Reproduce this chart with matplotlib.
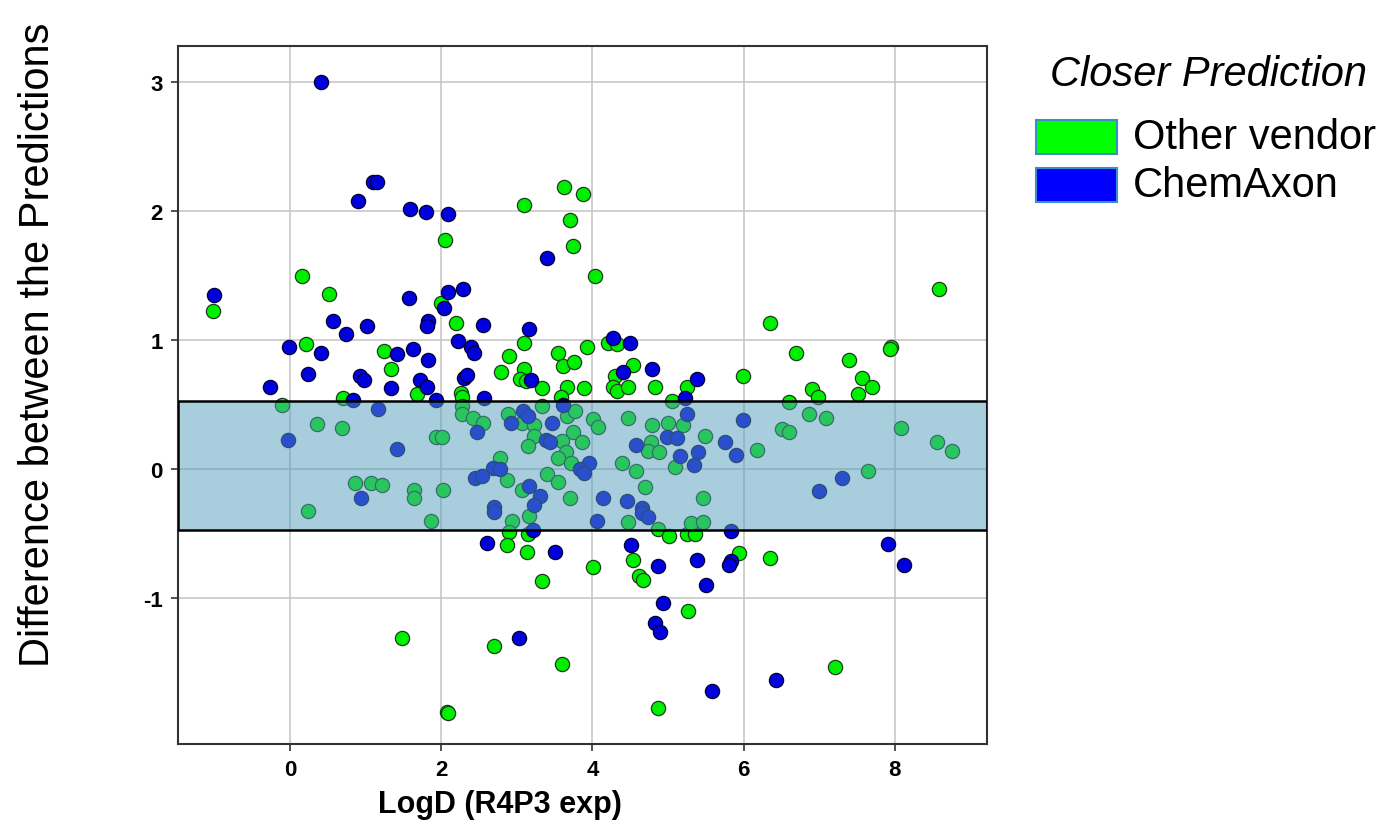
import matplotlib.pyplot as plt
from matplotlib.patches import Rectangle

plt.rcParams['font.family'] = ['Liberation Sans', 'DejaVu Sans']
plt.rcParams['axes.unicode_minus'] = False

# points where the other vendor was closer
other_x = [-1.02, 0.16, 0.52, 2.00, 0.21, 1.24, 1.34, 1.68, 0.70, -0.11, 0.36, 0.69, 1.93,
           0.86, 1.07, 1.22, 1.64, 1.64, 2.02, 0.24, 1.87, 1.48, 2.08, 2.05, 3.10, 3.62,
           3.88, 3.70, 3.74, 4.03, 2.20, 3.10, 2.90, 2.79, 3.10, 3.04, 3.12, 3.33, 3.54,
           3.61, 3.76, 3.93, 3.66, 3.89, 2.26, 2.28, 3.58, 4.21, 4.33, 4.54, 4.30, 4.27,
           4.33, 4.47, 4.83, 5.25, 5.05,
           2.28, 2.28, 2.42, 2.55, 2.01, 2.88, 3.07, 3.23, 3.33, 3.23, 3.15, 3.66, 3.77,
           3.74, 3.86, 3.60, 3.65, 3.55, 3.72, 4.01, 4.07, 4.47, 4.79, 5.00, 5.20, 5.49,
           4.78, 4.74, 4.88, 5.09, 4.39, 4.58, 2.78, 2.87, 3.40, 3.55, 3.07, 3.70, 4.70,
           5.46,
           2.94, 3.16, 2.90, 3.15, 2.87, 3.13, 3.33, 4.01, 4.47, 4.87, 5.01, 5.25, 5.36,
           5.30, 5.46, 4.54, 4.62, 4.67, 5.26, 2.70, 3.60, 2.09, 4.87, 5.94, 6.35, 7.21,
           8.58, 6.35, 6.69, 7.95, 7.94, 7.39, 5.99, 7.57, 7.70, 7.51, 6.90, 6.98, 6.60,
           6.87, 7.09, 6.51, 6.60, 8.08, 8.56, 8.76, 6.18, 7.65]
other_y = [1.23, 1.50, 1.36, 1.29, 0.97, 0.92, 0.78, 0.58, 0.55, 0.50, 0.35, 0.32, 0.25,
           -0.11, -0.11, -0.12, -0.16, -0.22, -0.16, -0.32, -0.40, -1.31, -1.88, 1.78, 2.05, 2.19,
           2.13, 1.93, 1.73, 1.50, 1.13, 0.98, 0.88, 0.75, 0.78, 0.70, 0.68, 0.63, 0.90,
           0.80, 0.83, 0.95, 0.64, 0.63, 0.59, 0.56, 0.56, 0.98, 0.97, 0.81, 0.72, 0.64,
           0.61, 0.64, 0.64, 0.64, 0.53,
           0.49, 0.43, 0.40, 0.36, 0.25, 0.43, 0.36, 0.34, 0.49, 0.26, 0.18, 0.41, 0.45,
           0.29, 0.21, 0.22, 0.13, 0.09, 0.05, 0.39, 0.33, 0.40, 0.34, 0.36, 0.34, 0.26,
           0.21, 0.14, 0.13, 0.02, 0.05, -0.01, 0.09, -0.08, -0.04, -0.10, -0.16, -0.22, -0.14,
           -0.22,
           -0.40, -0.36, -0.49, -0.50, -0.59, -0.64, -0.87, -0.76, -0.41, -0.46, -0.52, -0.50, -0.50,
           -0.42, -0.41, -0.70, -0.83, -0.86, -1.10, -1.37, -1.51, -1.89, -1.85, -0.65, -0.69, -1.53,
           1.40, 1.13, 0.90, 0.95, 0.93, 0.85, 0.72, 0.71, 0.64, 0.58, 0.62, 0.56, 0.52,
           0.43, 0.40, 0.31, 0.29, 0.32, 0.21, 0.14, 0.15, -0.01]

# points where ChemAxon was closer
chem_x = [0.41, 1.10, 1.15, 0.90, 1.59, 1.80, 2.09, -1.00, 0.57, 0.74, 1.02, 1.57, 1.83,
          1.81, 2.04, 2.09, -0.01, 0.41, 0.24, -0.26, 1.42, 1.63, 1.83, 0.93, 0.98, 1.34,
          1.72, 1.81, 1.93, 0.83, 1.16, -0.03, 1.42, 0.94,
          3.40, 2.29, 2.55, 3.16, 2.22, 2.39, 2.43, 3.19, 2.30, 2.34, 2.57, 3.61, 4.27,
          4.50, 4.40, 4.79, 5.38, 5.22,
          2.47, 2.92, 3.08, 3.15, 3.39, 3.44, 3.47, 3.96, 3.84, 3.89, 5.25, 4.99, 5.12,
          4.58, 5.16, 5.40, 5.34, 2.69, 2.78, 2.45, 2.54, 3.16, 3.31, 4.14, 4.46, 2.70,
          3.23, 4.66, 2.70, 3.21, 4.06, 4.66, 4.74, 5.99, 5.75, 5.90, 7.30, 7.00, 5.83,
          2.61, 3.51, 4.51, 4.87, 5.38, 5.50, 4.93, 4.83, 4.89, 3.03, 5.58, 5.83, 5.81,
          7.91, 8.12, 6.43]
chem_y = [3.00, 2.23, 2.23, 2.08, 2.02, 1.99, 1.98, 1.35, 1.15, 1.05, 1.11, 1.33, 1.15,
          1.11, 1.25, 1.37, 0.95, 0.90, 0.74, 0.64, 0.89, 0.93, 0.85, 0.72, 0.69, 0.63,
          0.69, 0.64, 0.54, 0.54, 0.47, 0.23, 0.16, -0.22,
          1.64, 1.40, 1.12, 1.09, 0.99, 0.95, 0.90, 0.69, 0.71, 0.73, 0.55, 0.50, 1.02,
          0.98, 0.75, 0.78, 0.70, 0.55,
          0.29, 0.36, 0.45, 0.41, 0.23, 0.21, 0.36, 0.05, 0.00, -0.03, 0.43, 0.25, 0.24,
          0.19, 0.10, 0.13, 0.03, 0.01, 0.00, -0.07, -0.05, -0.13, -0.21, -0.22, -0.25, -0.29,
          -0.28, -0.30, -0.33, -0.47, -0.40, -0.34, -0.37, 0.38, 0.21, 0.11, -0.07, -0.17, -0.48,
          -0.57, -0.64, -0.59, -0.75, -0.70, -0.90, -1.04, -1.19, -1.26, -1.31, -1.72, -0.71, -0.74,
          -0.58, -0.74, -1.63]

band_lo, band_hi = -0.47, 0.53
xticks = [0, 2, 4, 6, 8]
yticks = [-1, 0, 1, 2, 3]

fig = plt.figure(figsize=(13.83, 8.28), dpi=100)
ax = fig.add_axes([0.1287, 0.1002, 0.585, 0.843])

ax.scatter(other_x, other_y, s=105, c='#00ee00', edgecolors='#1b3d1b', linewidths=0.9, zorder=3)
ax.scatter(chem_x, chem_y, s=105, c='#0000dd', edgecolors='#000033', linewidths=0.9, zorder=3)

# translucent band on top of the points
ax.axhspan(band_lo, band_hi, facecolor=(0.325, 0.62, 0.74, 0.5), edgecolor='none', zorder=4)
ax.axhspan(band_lo, band_hi, facecolor='none', edgecolor='black', linewidth=1.8, zorder=5)

ax.set_xlim(-1.48, 9.22)
ax.set_ylim(-2.13, 3.28)
ax.set_xticks(xticks)
ax.set_yticks(yticks)
ax.grid(color='#c4c4c4', linewidth=1.1)
ax.set_axisbelow(True)
ax.tick_params(labelsize=16, length=5, width=1.2, color='#333333', pad=6)
for lab in ax.get_xticklabels() + ax.get_yticklabels():
    lab.set_fontweight('bold')
for sp in ax.spines.values():
    sp.set_linewidth(1.5)
    sp.set_color('#333333')

fig.text(500 / 1383, 1 - 805 / 828, 'LogD (R4P3 exp)', ha='center', va='center',
         fontsize=22, fontweight='bold')
fig.text(38 / 1383, 1 - 345 / 828, 'Difference between the Predictions', ha='center',
         va='center', rotation=90, fontsize=30)

# legend
fig.text(1209 / 1383, 1 - 75 / 828, 'Closer Prediction', ha='center', va='center',
         fontsize=30, style='italic')
for yc, col, name in [(138, '#00ff00', 'Other vendor'), (186, '#0000ff', 'ChemAxon')]:
    fig.patches.append(Rectangle((1036 / 1383, 1 - (yc + 17) / 828), 81 / 1383, 34 / 828,
                                 transform=fig.transFigure, facecolor=col,
                                 edgecolor='#3a8fc8', linewidth=1.5))
    fig.text(1133 / 1383, 1 - yc / 828, name, ha='left', va='center', fontsize=30)

fig.savefig('out.png', dpi=100)
